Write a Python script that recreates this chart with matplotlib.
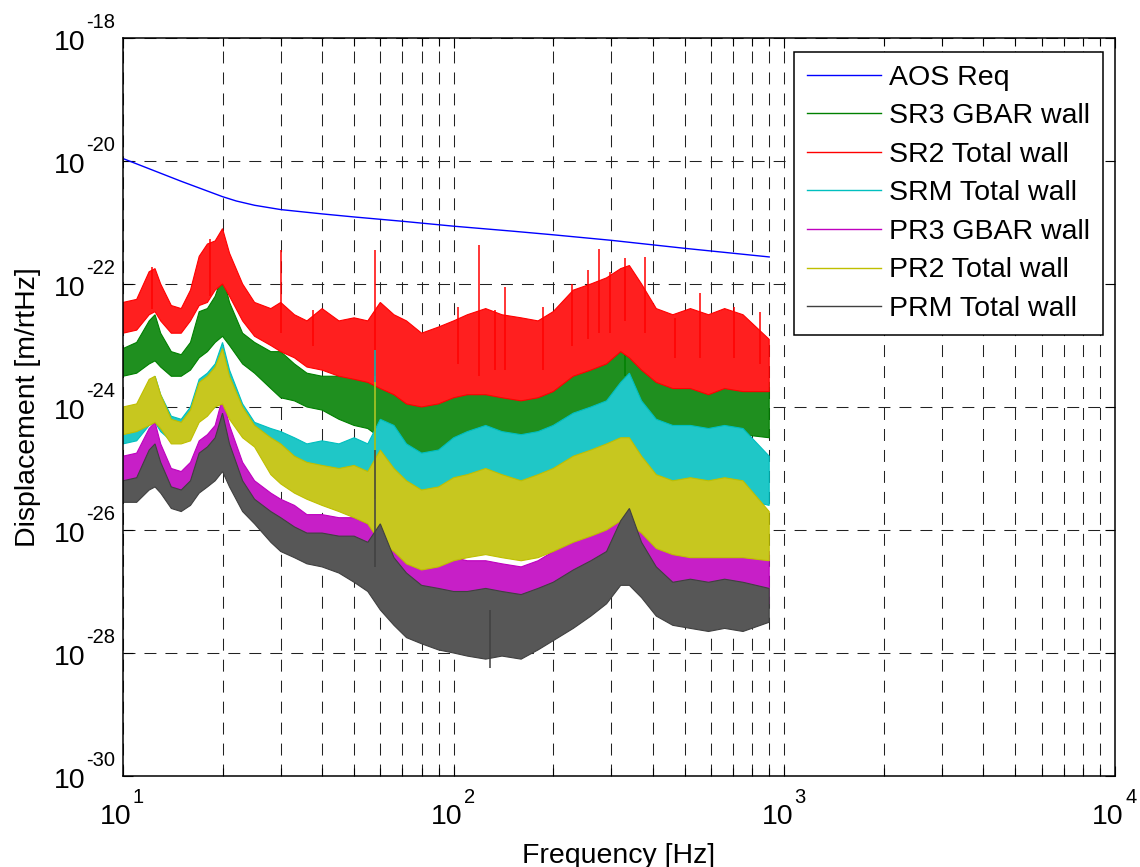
import numpy as np
import matplotlib
matplotlib.use("Agg")
import matplotlib.pyplot as plt
import matplotlib.ticker as mticker
import matplotlib.transforms as mtransforms
from matplotlib.colors import to_rgb

plt.rcParams["font.family"] = ["Liberation Sans", "DejaVu Sans"]
plt.rcParams["lines.scale_dashes"] = False

# frequency grid of the band envelopes [Hz]
freq = [10, 11, 12, 12.5, 13, 14, 15, 16, 17, 18, 19, 20, 21, 23, 25, 28, 30, 33, 36, 40,
        45, 50, 55, 60, 66, 72, 80, 90, 100, 110, 125, 140, 160, 180, 200, 230, 260, 290,
        320, 340, 370, 410, 460, 520, 590, 660, 750, 900]

# AOS requirement, log10 of m/rtHz
req_freq = [10, 15, 20, 22, 25, 30, 40, 50, 70, 100, 150, 200, 300, 500, 700, 900]
req_log = [-19.96, -20.33, -20.58, -20.65, -20.72, -20.79, -20.86, -20.91, -20.98, -21.06,
           -21.14, -21.2, -21.29, -21.42, -21.5, -21.56]

# upper / lower envelopes of each noise spectrum, log10 of m/rtHz
sr3_top = [-23.05, -22.95, -22.6, -22.5, -22.8, -23.1, -23.15, -22.95, -22.45, -22.4, -22.2, -21.85,
           -22.3, -22.8, -22.95, -23.1, -23.1, -23.3, -23.45, -23.5, -23.5, -23.45, -23.5, -23.3,
           -23.5, -23.6, -23.75, -23.6, -23.45, -23.4, -23.35, -23.45, -23.5, -23.45, -23.35, -23.1,
           -23.0, -22.9, -22.5, -22.4, -22.9, -23.2, -23.3, -23.25, -23.3, -23.25, -23.3, -23.6]
sr3_bot = [-23.5, -23.45, -23.3, -23.25, -23.35, -23.5, -23.5, -23.4, -23.2, -23.1, -22.95, -22.85,
           -23.0, -23.3, -23.45, -23.7, -23.85, -23.9, -24.0, -24.05, -24.2, -24.3, -24.35, -24.5,
           -24.6, -24.75, -24.8, -24.75, -24.6, -24.5, -24.45, -24.5, -24.55, -24.5, -24.45, -24.3,
           -24.2, -24.1, -23.9, -23.95, -24.1, -24.35, -24.4, -24.4, -24.45, -24.4, -24.45, -24.5]

sr2_top = [-22.3, -22.25, -21.8, -21.75, -22.0, -22.35, -22.4, -22.1, -21.55, -21.35, -21.3, -21.1,
           -21.5, -22.0, -22.3, -22.4, -22.3, -22.5, -22.6, -22.4, -22.6, -22.55, -22.6, -22.3,
           -22.5, -22.6, -22.8, -22.7, -22.6, -22.5, -22.4, -22.5, -22.55, -22.6, -22.45, -22.1,
           -22.0, -21.9, -21.75, -21.7, -22.0, -22.4, -22.5, -22.4, -22.5, -22.4, -22.5, -22.9]
sr2_bot = [-22.8, -22.75, -22.5, -22.45, -22.6, -22.8, -22.8, -22.6, -22.35, -22.3, -22.1, -22.0,
           -22.2, -22.6, -22.85, -23.0, -23.1, -23.2, -23.35, -23.4, -23.5, -23.55, -23.6, -23.7,
           -23.8, -23.95, -24.0, -23.95, -23.85, -23.8, -23.8, -23.85, -23.9, -23.85, -23.75, -23.5,
           -23.4, -23.3, -23.1, -23.2, -23.4, -23.6, -23.7, -23.7, -23.8, -23.7, -23.75, -23.75]

srm_top = [-24.15, -24.0, -23.6, -23.5, -23.8, -24.15, -24.2, -24.0, -23.55, -23.45, -23.3, -22.95,
           -23.4, -23.95, -24.25, -24.35, -24.4, -24.5, -24.6, -24.55, -24.6, -24.5, -24.6, -24.2,
           -24.3, -24.6, -24.75, -24.7, -24.5, -24.4, -24.3, -24.4, -24.45, -24.4, -24.3, -24.1,
           -24.0, -23.9, -23.6, -23.45, -23.9, -24.2, -24.3, -24.3, -24.35, -24.3, -24.35, -24.8]
srm_bot = [-24.6, -24.55, -24.3, -24.25, -24.4, -24.55, -24.55, -24.5, -24.2, -24.1, -24.0, -23.9,
           -24.1, -24.4, -24.6, -24.9, -25.0, -25.1, -25.2, -25.3, -25.35, -25.4, -25.5, -25.6,
           -25.7, -25.85, -25.9, -25.8, -25.65, -25.55, -25.5, -25.55, -25.6, -25.55, -25.5, -25.3,
           -25.2, -25.1, -24.9, -24.95, -25.1, -25.35, -25.45, -25.5, -25.5, -25.45, -25.5, -25.6]

pr3_top = [-24.8, -24.75, -24.35, -24.25, -24.6, -25.0, -25.05, -24.9, -24.55, -24.45, -24.3, -23.85,
           -24.3, -24.9, -25.2, -25.4, -25.5, -25.6, -25.75, -25.75, -25.8, -25.8, -25.9, -25.6,
           -26.0, -26.2, -26.4, -26.45, -26.45, -26.5, -26.5, -26.55, -26.6, -26.5, -26.35, -26.15,
           -26.0, -25.9, -25.5, -25.3, -25.8, -26.1, -26.2, -26.1, -26.2, -26.1, -26.2, -26.35]
pr3_bot = [-25.25, -25.2, -25.05, -25.0, -25.1, -25.3, -25.35, -25.3, -25.15, -25.05, -24.9, -24.75,
           -25.0, -25.4, -25.7, -25.95, -26.05, -26.15, -26.25, -26.3, -26.4, -26.5, -26.6, -26.8,
           -27.1, -27.35, -27.45, -27.55, -27.6, -27.65, -27.7, -27.7, -27.75, -27.65, -27.5, -27.3,
           -27.1, -26.95, -26.6, -26.6, -26.8, -27.1, -27.25, -27.3, -27.35, -27.3, -27.35, -27.2]

pr2_top = [-24.0, -23.95, -23.55, -23.5, -23.8, -24.2, -24.25, -24.05, -23.6, -23.5, -23.35, -23.05,
           -23.5, -24.0, -24.3, -24.5, -24.6, -24.8, -24.9, -24.95, -25.0, -24.95, -25.05, -24.7,
           -25.0, -25.2, -25.35, -25.3, -25.15, -25.1, -25.0, -25.1, -25.2, -25.1, -25.0, -24.8,
           -24.7, -24.6, -24.5, -24.5, -24.8, -25.1, -25.2, -25.15, -25.2, -25.15, -25.2, -25.7]
pr2_bot = [-24.45, -24.4, -24.3, -24.25, -24.35, -24.6, -24.6, -24.55, -24.25, -24.15, -24.0, -23.95,
           -24.2, -24.5, -24.65, -25.1, -25.25, -25.4, -25.5, -25.6, -25.7, -25.8, -25.9, -26.2,
           -26.35, -26.55, -26.65, -26.6, -26.5, -26.45, -26.4, -26.45, -26.5, -26.45, -26.35, -26.2,
           -26.1, -26.0, -25.85, -25.9, -26.05, -26.3, -26.4, -26.45, -26.45, -26.45, -26.45, -26.5]

prm_top = [-25.2, -25.15, -24.7, -24.6, -24.9, -25.3, -25.35, -25.2, -24.75, -24.65, -24.5, -24.1,
           -24.6, -25.2, -25.5, -25.7, -25.8, -25.95, -26.05, -26.05, -26.1, -26.1, -26.2, -25.9,
           -26.45, -26.7, -26.9, -26.95, -27.0, -27.0, -26.95, -27.0, -27.05, -26.95, -26.85, -26.65,
           -26.5, -26.35, -25.85, -25.65, -26.2, -26.6, -26.85, -26.8, -26.85, -26.8, -26.85, -26.95]
prm_bot = [-25.55, -25.55, -25.35, -25.3, -25.4, -25.65, -25.7, -25.6, -25.4, -25.3, -25.2, -25.05,
           -25.3, -25.7, -25.9, -26.2, -26.35, -26.45, -26.55, -26.6, -26.7, -26.85, -27.0, -27.3,
           -27.55, -27.75, -27.85, -27.95, -28.0, -28.05, -28.1, -28.05, -28.1, -27.95, -27.8, -27.6,
           -27.4, -27.2, -26.9, -26.9, -27.1, -27.4, -27.55, -27.6, -27.65, -27.6, -27.65, -27.5]

# narrow lines sticking out of the bands: frequency, bottom, top (log10)
sr2_spike_f = [12.2, 18.3, 30, 37.6, 58, 103, 119, 133, 143, 186, 228, 254, 276, 296, 330, 379, 468, 556, 704, 843]
sr2_spike_lo = [-22.4, -22.2, -22.8, -23.0, -23.5, -23.3, -23.5, -23.4, -23.4, -23.4, -23.0, -22.9,
                -22.8, -22.8, -22.6, -22.8, -23.2, -23.2, -23.2, -23.3]
sr2_spike_hi = [-21.72, -21.27, -21.45, -22.42, -21.45, -22.37, -21.37, -22.42, -22.05, -22.37, -22.0,
                -21.77, -21.43, -21.8, -21.58, -21.56, -22.55, -22.15, -22.37, -22.45]
sr3_spike_f = [58, 330]
sr3_spike_lo = [-23.9, -23.5]
sr3_spike_hi = [-23.05, -22.35]
srm_spike_f = [58]
srm_spike_lo = [-25.0]
srm_spike_hi = [-23.07]
pr3_spike_f = [58]
pr3_spike_lo = [-26.3]
pr3_spike_hi = [-24.9]
pr2_spike_f = [58]
pr2_spike_lo = [-25.5]
pr2_spike_hi = [-23.6]
prm_spike_f = [58, 129]
prm_spike_lo = [-26.6, -28.25]
prm_spike_hi = [-24.7, -27.3]

labels = ["SR3 GBAR wall", "SR2 Total wall", "SRM Total wall",
          "PR3 GBAR wall", "PR2 Total wall", "PRM Total wall"]
colors = ["#008000", "#ff0000", "#00bfbf", "#bf00bf", "#bfbf00", "#404040"]
tops = [sr3_top, sr2_top, srm_top, pr3_top, pr2_top, prm_top]
bots = [sr3_bot, sr2_bot, srm_bot, pr3_bot, pr2_bot, prm_bot]
spikes = [(sr3_spike_f, sr3_spike_lo, sr3_spike_hi), (sr2_spike_f, sr2_spike_lo, sr2_spike_hi),
          (srm_spike_f, srm_spike_lo, srm_spike_hi), (pr3_spike_f, pr3_spike_lo, pr3_spike_hi),
          (pr2_spike_f, pr2_spike_lo, pr2_spike_hi), (prm_spike_f, prm_spike_lo, prm_spike_hi)]

fig = plt.figure(figsize=(11.4, 8.67), dpi=100)
ax = fig.add_axes([123 / 1140, 91 / 867, 992 / 1140, 738 / 867])
ax.set_xscale("log")
ax.set_yscale("log")
ax.set_axisbelow(True)

f = np.array(freq)
ax.plot(req_freq, 10.0 ** np.array(req_log), color="#0000ff", lw=1.0, label="AOS Req", zorder=2)
# plotted in the legend order, later curves cover earlier ones
for i, (lab, col, top, bot, sp) in enumerate(zip(labels, colors, tops, bots, spikes)):
    z = 3 + i
    # the dense traces leave thin white gaps, so the band reads a bit lighter
    face = 0.88 * np.array(to_rgb(col)) + 0.12
    top = 10.0 ** np.array(top)
    bot = 10.0 ** np.array(bot)
    ax.fill(np.concatenate([f, f[::-1]]), np.concatenate([top, bot[::-1]]),
            facecolor=face, edgecolor=col, lw=0.8, zorder=z)
    ax.vlines(sp[0], 10.0 ** np.array(sp[1]), 10.0 ** np.array(sp[2]), color=col, lw=1.1, zorder=z)
    ax.plot([], [], color=col, lw=1.0, label=lab)

ax.set_xlim(10, 1e4)
ax.set_ylim(1e-30, 1e-18)

y_exps = [-30, -28, -26, -24, -22, -20, -18]
x_exps = [1, 2, 3, 4]
ax.yaxis.set_major_locator(mticker.FixedLocator([10.0 ** e for e in y_exps]))
ax.yaxis.set_minor_locator(mticker.NullLocator())
ax.xaxis.set_major_locator(mticker.LogLocator(base=10))
ax.xaxis.set_minor_locator(mticker.LogLocator(base=10, subs=np.arange(2, 10)))

grid_style = dict(color="#222222", lw=0.75, linestyle=(0, (8.6, 6.5)))
ax.grid(True, which="major", axis="both", **grid_style)
ax.grid(True, which="minor", axis="x", **grid_style)

ax.tick_params(which="both", direction="in", top=True, right=True,
               labelleft=False, labelbottom=False, width=0.8)
ax.tick_params(which="major", length=7)
ax.tick_params(which="minor", length=5.5)
for sp in ax.spines.values():
    sp.set_linewidth(1.1)
    sp.set_zorder(20)

# MATLAB style 10^n labels
ytr = ax.get_yaxis_transform()
for e in y_exps:
    ax.text(0, 10.0 ** e, "10", fontsize=20.5, ha="right", va="baseline",
            transform=mtransforms.offset_copy(ytr, fig=fig, x=-37, y=-12, units="dots"))
    ax.text(0, 10.0 ** e, str(e), fontsize=14.5, ha="left", va="baseline",
            transform=mtransforms.offset_copy(ytr, fig=fig, x=-36.5, y=10, units="dots"))
xtr = ax.get_xaxis_transform()
for e in x_exps:
    ax.text(10.0 ** e, 0, "10", fontsize=20.5, ha="right", va="baseline",
            transform=mtransforms.offset_copy(xtr, fig=fig, x=9, y=-48, units="dots"))
    ax.text(10.0 ** e, 0, str(e), fontsize=14.5, ha="left", va="baseline",
            transform=mtransforms.offset_copy(xtr, fig=fig, x=10, y=-27, units="dots"))

ax.set_xlabel("Frequency [Hz]", fontsize=20.5, va="baseline")
ax.xaxis.set_label_coords(0.5, -0.118)
ax.set_ylabel("Displacement [m/rtHz]", fontsize=20.5, va="center")
ax.yaxis.set_label_coords(-0.096, 0.5)

leg = ax.legend(loc="upper right", bbox_to_anchor=(0.988, 0.981), borderaxespad=0,
                fontsize=20.5, handlelength=2.6, handletextpad=0.3, labelspacing=0.44,
                borderpad=0.45, fancybox=False, framealpha=1, edgecolor="black")
leg.get_frame().set_linewidth(1.1)
leg.set_zorder(30)

fig.savefig("out.png", dpi=100)
